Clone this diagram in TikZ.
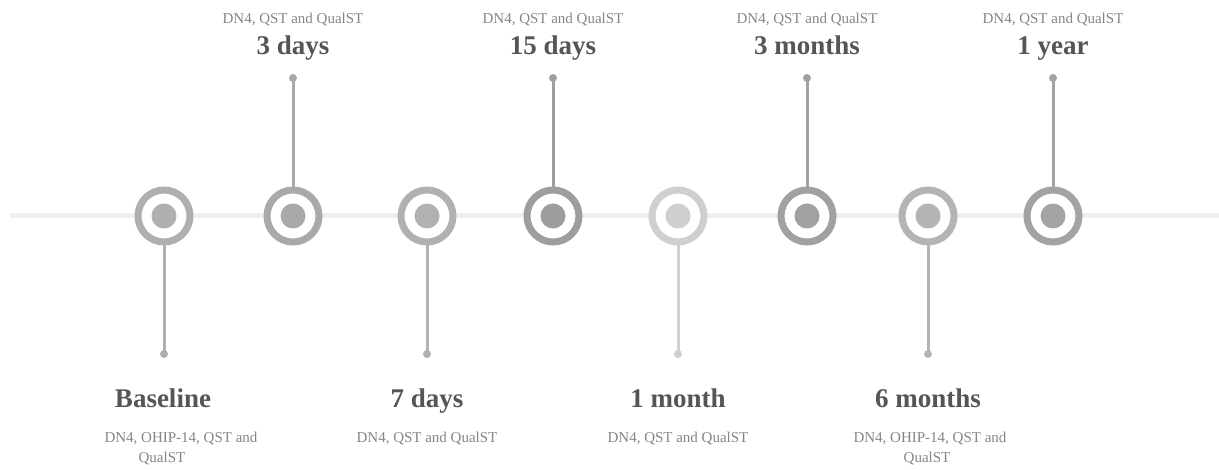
\documentclass[tikz,border=0pt]{standalone}
\usepackage{fontspec}
\setmainfont{Liberation Serif}
\usetikzlibrary{backgrounds}
\definecolor{cA}{HTML}{AFAFAF}
\definecolor{cB}{HTML}{A9A9A9}
\definecolor{cC}{HTML}{B1B1B1}
\definecolor{cD}{HTML}{9E9E9E}
\definecolor{cE}{HTML}{CFCFCF}
\definecolor{cF}{HTML}{A1A1A1}
\definecolor{cG}{HTML}{B4B4B4}
\definecolor{cH}{HTML}{A3A3A3}
\definecolor{axis}{HTML}{EFEFEF}
\definecolor{smalltext}{HTML}{858585}
\definecolor{bigtext}{HTML}{555555}
\begin{document}
\begin{tikzpicture}[x=1pt,y=1pt,
  ring/.style={circle,draw=#1,line width=7pt,fill=white,minimum size=52pt,inner sep=0pt,outer sep=0pt},
  enddot/.style={circle,fill=#1,minimum size=8pt,inner sep=0pt},
  stem/.style={draw=#1,line width=3pt},
  small/.style={font=\fontsize{15}{18}\selectfont,text=smalltext,anchor=base,inner sep=0pt},
  big/.style={font=\fontsize{27}{30}\selectfont\bfseries,text=bigtext,anchor=base,inner sep=0pt}]
\useasboundingbox (0,0) rectangle (1219,469);
\coordinate (axL) at (10,253);
\coordinate (axR) at (1219,253);
% rings
\node[ring=cA] (r1) at (164,253) {};
\node[ring=cB] (r2) at (293,253) {};
\node[ring=cC] (r3) at (427,253) {};
\node[ring=cD] (r4) at (553,253) {};
\node[ring=cE] (r5) at (678,253) {};
\node[ring=cF] (r6) at (807,253) {};
\node[ring=cG] (r7) at (928,253) {};
\node[ring=cH] (r8) at (1053,253) {};
\foreach \i/\c in {1/cA,2/cB,3/cC,4/cD,5/cE,6/cF,7/cG,8/cH}
  \fill[\c] (r\i.center) circle (12.5pt);
% end dots
\node[enddot=cA] (d1) at (164,115) {};
\node[enddot=cB] (d2) at (293,391) {};
\node[enddot=cC] (d3) at (427,115) {};
\node[enddot=cD] (d4) at (553,391) {};
\node[enddot=cE] (d5) at (678,115) {};
\node[enddot=cF] (d6) at (807,391) {};
\node[enddot=cG] (d7) at (928,115) {};
\node[enddot=cH] (d8) at (1053,391) {};
\begin{scope}[on background layer]
  \draw[draw=axis,line width=5pt] (axL) -- (axR);
  \draw[stem=cA] (d1.center) -- (r1.center);
  \draw[stem=cB] (d2.center) -- (r2.center);
  \draw[stem=cC] (d3.center) -- (r3.center);
  \draw[stem=cD] (d4.center) -- (r4.center);
  \draw[stem=cE] (d5.center) -- (r5.center);
  \draw[stem=cF] (d6.center) -- (r6.center);
  \draw[stem=cG] (d7.center) -- (r7.center);
  \draw[stem=cH] (d8.center) -- (r8.center);
\end{scope}
% top labels
\node[small] (s2) at (293,445) {DN4, QST and QualST};
\node[big] (b2) at (293,414) {3 days};
\node[small] (s4) at (553,445) {DN4, QST and QualST};
\node[big] (b4) at (553,414) {15 days};
\node[small] (s6) at (807,445) {DN4, QST and QualST};
\node[big] (b6) at (807,414) {3 months};
\node[small] (s8) at (1053,445) {DN4, QST and QualST};
\node[big] (b8) at (1053,414) {1 year};
% bottom labels
\node[big] (b1) at (163,62) {Baseline};
\node[small] (s1a) at (181,27) {DN4, OHIP-14, QST and};
\node[small] (s1b) at (162,7) {QualST};
\node[big] (b3) at (427,62) {7 days};
\node[small] (s3) at (427,27) {DN4, QST and QualST};
\node[big] (b5) at (678,62) {1 month};
\node[small] (s5) at (678,27) {DN4, QST and QualST};
\node[big] (b7) at (928,62) {6 months};
\node[small] (s7a) at (930,27) {DN4, OHIP-14, QST and};
\node[small] (s7b) at (927,7) {QualST};
\end{tikzpicture}
\end{document}
